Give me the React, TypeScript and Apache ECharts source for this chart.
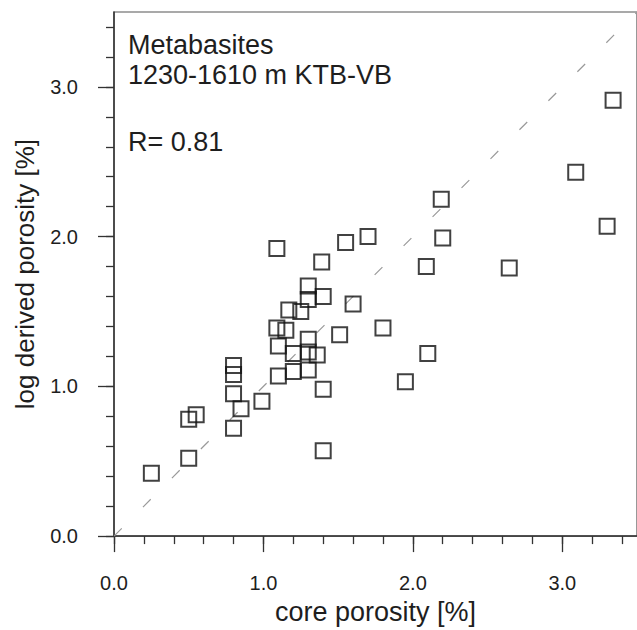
import React, { useEffect, useRef } from "react";
import * as echarts from "echarts";

// core porosity [%] (x) and log derived porosity [%] (y)
const corePorosity = [
  0.25, 0.5, 0.55, 0.5, 0.8, 0.8, 0.8, 0.85, 0.8, 0.99,
  1.09, 1.09, 1.15, 1.1, 1.1, 1.17, 1.25, 1.2, 1.2, 1.3,
  1.3, 1.3, 1.3, 1.3, 1.36, 1.39, 1.4, 1.4, 1.4, 1.51,
  1.55, 1.6, 1.7, 1.8, 1.95, 2.09, 2.1, 2.19, 2.2, 2.645,
  3.09, 3.3, 3.34,
];
const logPorosity = [
  0.42, 0.78, 0.81, 0.52, 1.14, 1.08, 0.95, 0.85, 0.72, 0.9,
  1.92, 1.39, 1.375, 1.27, 1.07, 1.51, 1.5, 1.22, 1.1, 1.67,
  1.58, 1.315, 1.23, 1.11, 1.21, 1.83, 1.6, 0.98, 0.57, 1.345,
  1.96, 1.55, 2.0, 1.39, 1.03, 1.8, 1.22, 2.25, 1.99, 1.79,
  2.43, 2.07, 2.91,
];
const oneToOneLine = [
  [0, 0],
  [3.5, 3.5],
];
const majorTicks = [0, 1, 2, 3];
const minorTicks = [0, 0.2, 0.4, 0.6, 0.8, 1, 1.2, 1.4, 1.6, 1.8, 2, 2.2, 2.4, 2.6, 2.8, 3, 3.2, 3.4];
const axisMin = 0;
const axisMax = 3.5;
const xTitle = "core porosity [%]";
const yTitle = "log derived porosity [%]";
const annotationLines = ["Metabasites", "1230-1610 m KTB-VB", "R= 0.81"];

const FONT = "'Liberation Sans', Arial, Helvetica, sans-serif";
const INK = "#1e1e1e";

function minorAxis(position: "bottom" | "left") {
  return {
    type: "value",
    gridIndex: 0,
    position,
    min: axisMin,
    max: axisMax,
    interval: 0.2,
    axisLine: { show: true, onZero: false, lineStyle: { color: "#333", width: 1.5 } },
    axisTick: {
      show: true,
      inside: false,
      length: 8,
      customValues: minorTicks,
      lineStyle: { color: "#333", width: 1.3 },
    },
    axisLabel: { show: false },
    splitLine: { show: false },
  };
}

function majorAxis(position: "bottom" | "left", name: string, nameGap: number, nameSize: number, margin: number) {
  return {
    type: "value",
    gridIndex: 0,
    position,
    min: axisMin,
    max: axisMax,
    interval: 1,
    axisLine: { show: false, onZero: false },
    axisTick: {
      show: true,
      inside: false,
      length: 16,
      customValues: majorTicks,
      lineStyle: { color: "#333", width: 1.3 },
    },
    axisLabel: {
      show: true,
      customValues: majorTicks,
      formatter: (v: number) => v.toFixed(1),
      margin,
      fontSize: 20,
      fontFamily: FONT,
      color: INK,
    },
    splitLine: { show: false },
    name,
    nameLocation: "middle",
    nameGap,
    nameTextStyle: { fontSize: nameSize, fontFamily: FONT, color: INK, lineHeight: nameSize },
  };
}

export default function App() {
  const ref = useRef<HTMLDivElement>(null);

  useEffect(() => {
    if (!ref.current) return;
    const chart = echarts.init(ref.current, null, { renderer: "svg" });
    const points = corePorosity.map((x, i) => [x, logPorosity[i]]);
    const textYs = [45, 75, 142];

    chart.setOption({
      animation: false,
      backgroundColor: "#fff",
      grid: {
        left: 114,
        top: 12,
        right: -2,
        bottom: 89,
        show: true,
        borderColor: "#555",
        borderWidth: 1.2,
        backgroundColor: "transparent",
        containLabel: false,
      },
      xAxis: [minorAxis("bottom"), majorAxis("bottom", xTitle, 60, 27, 37)],
      yAxis: [minorAxis("left"), majorAxis("left", yTitle, 76, 26, 36)],
      graphic: annotationLines.map((t, i) => ({
        type: "text",
        x: 128,
        y: textYs[i],
        style: {
          text: t,
          fontSize: 27,
          lineHeight: 28,
          fontFamily: FONT,
          fill: INK,
          verticalAlign: "middle",
          align: "left",
        },
        z: 10,
      })),
      series: [
        {
          type: "line",
          xAxisIndex: 0,
          yAxisIndex: 0,
          data: oneToOneLine,
          symbol: "none",
          silent: true,
          lineStyle: { type: [11, 30], color: "#9a9a9a", width: 1.2 },
          z: 1,
        },
        {
          type: "scatter",
          xAxisIndex: 0,
          yAxisIndex: 0,
          data: points,
          symbol: "rect",
          symbolSize: 15,
          itemStyle: { color: "rgba(0,0,0,0)", borderColor: "#111", borderWidth: 2 },
          z: 3,
        },
      ],
    });

    return () => chart.dispose();
  }, []);

  return (
    <div
      ref={ref}
      style={{ position: "absolute", left: 0, top: 0, width: 637, height: 630, background: "#fff" }}
    />
  );
}
